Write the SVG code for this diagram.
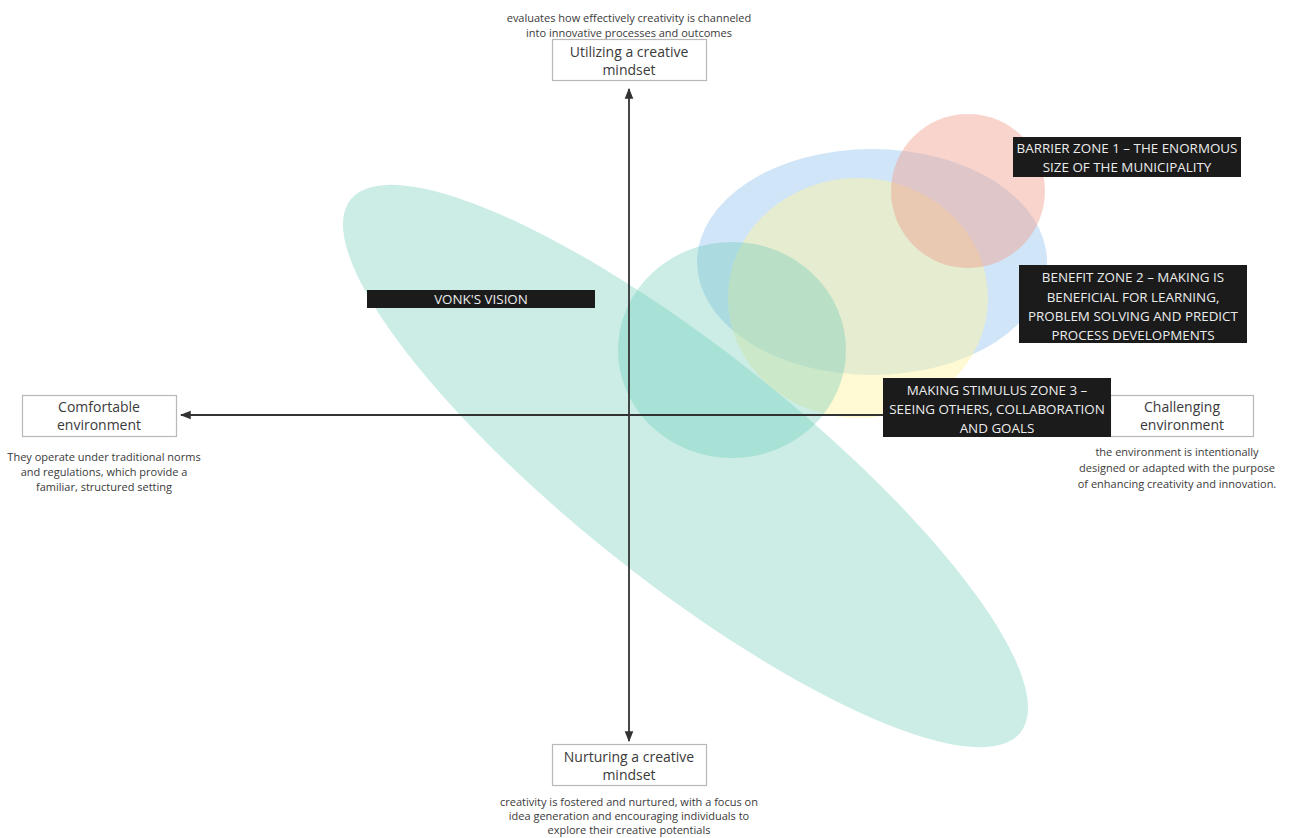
<svg xmlns="http://www.w3.org/2000/svg" width="1289" height="838" viewBox="0 0 1289 838">
<style>
.bg{fill:#ffffff}
.axisbox{fill:#ffffff;stroke:#b8b8b8;stroke-width:1.2}
.boxtxt{font-family:"Open Sans","Noto Sans",sans-serif;font-size:14px;fill:#3a3a3a;text-anchor:middle}
.desc{font-family:"Open Sans","Noto Sans",sans-serif;font-size:11px;fill:#3a3a3a;text-anchor:middle}
.zone{fill:#1b1b1b}
.zonetxt{font-family:"Open Sans","Noto Sans",sans-serif;font-size:13.4px;fill:#ececec;text-anchor:middle}
.axis{stroke:#333333;stroke-width:1.8;fill:none}
.teal{fill:#64c8b4;fill-opacity:0.335}
</style>
<defs>
<marker id="arr" viewBox="0 0 10 10" refX="9" refY="5" markerWidth="6" markerHeight="6" orient="auto-start-reverse" markerUnits="strokeWidth">
<path d="M0,1 L10,5 L0,9 Z" fill="#333333"/>
</marker>
</defs>
<rect class="bg" x="0" y="0" width="1289" height="838"/>
<g id="shapes">
<ellipse id="vonk-ellipse" class="teal" cx="685.5" cy="466" rx="428" ry="115" transform="rotate(38.5 685.5 466)"/>
<ellipse id="benefit-ellipse" cx="872" cy="262" rx="175" ry="113" fill="#a9cff2" fill-opacity="0.55"/>
<ellipse id="yellow-ellipse" cx="858" cy="298" rx="130" ry="120" fill="#fff59d" fill-opacity="0.45"/>
<circle id="barrier-circle" cx="968" cy="191" r="77" fill="#f0a090" fill-opacity="0.45"/>
<ellipse id="stimulus-circle" class="teal" cx="732" cy="350" rx="114" ry="108"/>
</g>
<g id="connectors">
<line class="axis" x1="629" y1="415" x2="629" y2="89" marker-end="url(#arr)"/>
<line class="axis" x1="629" y1="415" x2="629" y2="741" marker-end="url(#arr)"/>
<line class="axis" x1="629" y1="415" x2="181" y2="415" marker-end="url(#arr)"/>
<line class="axis" x1="629" y1="415" x2="1110" y2="415"/>
</g>
<g id="utilizing">
<text class="desc" x="629" y="22">evaluates how effectively creativity is channeled</text>
<text class="desc" x="629" y="37">into innovative processes and outcomes</text>
<rect class="axisbox" x="552.5" y="39.5" width="154" height="41"/>
<text class="boxtxt" x="629" y="57">Utilizing a creative</text>
<text class="boxtxt" x="629" y="75">mindset</text>
</g>
<g id="nurturing">
<rect class="axisbox" x="552.5" y="744.5" width="154" height="41"/>
<text class="boxtxt" x="629" y="762">Nurturing a creative</text>
<text class="boxtxt" x="629" y="780">mindset</text>
<text class="desc" x="629" y="806">creativity is fostered and nurtured, with a focus on</text>
<text class="desc" x="629" y="820">idea generation and encouraging individuals to</text>
<text class="desc" x="629" y="834">explore their creative potentials</text>
</g>
<g id="comfortable">
<rect class="axisbox" x="22.5" y="395.5" width="154" height="41"/>
<text class="boxtxt" x="99" y="412">Comfortable</text>
<text class="boxtxt" x="99" y="430">environment</text>
<text class="desc" x="104" y="461">They operate under traditional norms</text>
<text class="desc" x="104" y="476">and regulations, which provide a</text>
<text class="desc" x="104" y="491">familiar, structured setting</text>
</g>
<g id="challenging">
<rect class="axisbox" x="1110.5" y="395.5" width="143" height="41"/>
<text class="boxtxt" x="1182" y="412">Challenging</text>
<text class="boxtxt" x="1182" y="430">environment</text>
<text class="desc" x="1177" y="456">the environment is intentionally</text>
<text class="desc" x="1177" y="472">designed or adapted with the purpose</text>
<text class="desc" x="1177" y="488">of enhancing creativity and innovation.</text>
</g>
<g id="barrier-zone">
<rect class="zone" x="1013" y="137" width="228" height="40"/>
<text class="zonetxt" x="1127" y="153">BARRIER ZONE 1 – THE ENORMOUS</text>
<text class="zonetxt" x="1127" y="172">SIZE OF THE MUNICIPALITY</text>
</g>
<g id="benefit-zone">
<rect class="zone" x="1019" y="265" width="228" height="78"/>
<text class="zonetxt" x="1133" y="282">BENEFIT ZONE 2 – MAKING IS</text>
<text class="zonetxt" x="1133" y="301.5">BENEFICIAL FOR LEARNING,</text>
<text class="zonetxt" x="1133" y="321">PROBLEM SOLVING AND PREDICT</text>
<text class="zonetxt" x="1133" y="340">PROCESS DEVELOPMENTS</text>
</g>
<g id="vonks-vision">
<rect class="zone" x="367" y="290" width="228" height="18"/>
<text class="zonetxt" x="481" y="303.5">VONK'S VISION</text>
</g>
<g id="stimulus-zone">
<rect class="zone" x="883" y="378" width="228" height="59"/>
<text class="zonetxt" x="997" y="395">MAKING STIMULUS ZONE 3 –</text>
<text class="zonetxt" x="997" y="414">SEEING OTHERS, COLLABORATION</text>
<text class="zonetxt" x="997" y="433">AND GOALS</text>
</g>
</svg>
